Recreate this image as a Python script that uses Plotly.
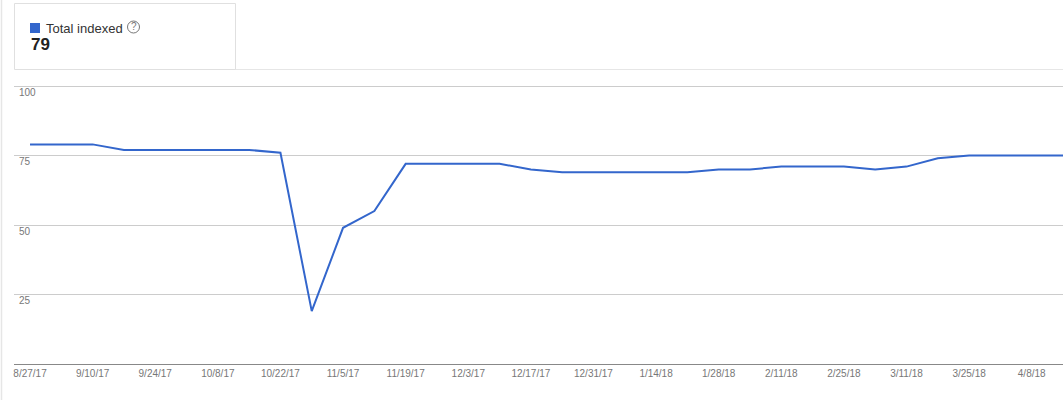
import plotly.graph_objects as go

# ---- data ----
dates = [
    "2017-08-27", "2017-09-03", "2017-09-10", "2017-09-17", "2017-09-24",
    "2017-10-01", "2017-10-08", "2017-10-15", "2017-10-22", "2017-10-29",
    "2017-11-05", "2017-11-12", "2017-11-19", "2017-11-26", "2017-12-03",
    "2017-12-10", "2017-12-17", "2017-12-24", "2017-12-31", "2018-01-07",
    "2018-01-14", "2018-01-21", "2018-01-28", "2018-02-04", "2018-02-11",
    "2018-02-18", "2018-02-25", "2018-03-04", "2018-03-11", "2018-03-18",
    "2018-03-25", "2018-04-01", "2018-04-08", "2018-04-15",
]
total_indexed = [
    79, 79, 79, 77, 77,
    77, 77, 77, 76, 19,
    49, 55, 72, 72, 72,
    72, 70, 69, 69, 69,
    69, 69, 70, 70, 71,
    71, 71, 70, 71, 74,
    75, 75, 75, 75,
]
x_tickvals = [
    "2017-08-27", "2017-09-10", "2017-09-24", "2017-10-08", "2017-10-22",
    "2017-11-05", "2017-11-19", "2017-12-03", "2017-12-17", "2017-12-31",
    "2018-01-14", "2018-01-28", "2018-02-11", "2018-02-25", "2018-03-11",
    "2018-03-25", "2018-04-08",
]
x_ticktext = [
    "8/27/17", "9/10/17", "9/24/17", "10/8/17", "10/22/17",
    "11/5/17", "11/19/17", "12/3/17", "12/17/17", "12/31/17",
    "1/14/18", "1/28/18", "2/11/18", "2/25/18", "3/11/18",
    "3/25/18", "4/8/18",
]
y_tickvals = [25, 50, 75, 100]
y_ticktext = ["25", "50", "75", "100"]
series_name = "Total indexed"
summary_value = "79"

# ---- layout geometry (pixels) ----
W, H = 1063, 400
ML, MR, MT, MB = 14, 0, 83, 36
PW = W - ML - MR
PH = H - MT - MB
Y_MAX = 100 + 3 / 2.78


def px_x(x):
    return (x - ML) / PW


def px_y(y):
    return (H - MB - y) / PH


BLUE = "#3366cc"
FONT = "Arial, Liberation Sans, sans-serif"
GREY_TXT = "#777777"

fig = go.Figure()
fig.add_trace(go.Scatter(
    x=dates, y=total_indexed, mode="lines", name=series_name,
    line=dict(color=BLUE, width=2), hoverinfo="x+y",
))

fig.update_layout(
    width=W, height=H,
    margin=dict(l=ML, r=MR, t=MT, b=MB, pad=0),
    paper_bgcolor="white", plot_bgcolor="white",
    showlegend=False,
    font=dict(family=FONT, size=10, color=GREY_TXT),
    xaxis=dict(
        type="date",
        range=["2017-08-23 10:00", "2018-04-15 00:00"],
        tickvals=x_tickvals, ticktext=x_ticktext,
        showgrid=False, zeroline=False,
        showline=True, linecolor="#888888", linewidth=1,
        ticks="", ticklen=0,
        tickfont=dict(family=FONT, size=10, color=GREY_TXT),
    ),
    yaxis=dict(
        range=[0, Y_MAX],
        tickvals=y_tickvals,
        showticklabels=False,
        showgrid=True, gridcolor="#cccccc", gridwidth=1,
        zeroline=False, showline=False,
        ticks="",
    ),
)

shapes = [
    # left frame line
    dict(type="line", xref="paper", yref="paper",
         x0=px_x(1.5), x1=px_x(1.5), y0=px_y(0), y1=px_y(400),
         line=dict(color="#e6e6e6", width=1.5)),
    # horizontal separator
    dict(type="line", xref="paper", yref="paper",
         x0=px_x(235), x1=px_x(1063), y0=px_y(69.5), y1=px_y(69.5),
         line=dict(color="#e6e6e6", width=1)),
    # summary box
    dict(type="rect", xref="paper", yref="paper",
         x0=px_x(14.5), x1=px_x(235.5), y0=px_y(69.5), y1=px_y(3.5),
         line=dict(color="#e0e0e0", width=1), fillcolor="white"),
    # legend colour square
    dict(type="rect", xref="paper", yref="paper",
         x0=px_x(30), x1=px_x(40), y0=px_y(33), y1=px_y(23),
         line=dict(width=0), fillcolor=BLUE),
    # question-mark circle
    dict(type="circle", xref="paper", yref="paper",
         x0=px_x(127.5), x1=px_x(139.5), y0=px_y(33), y1=px_y(21),
         line=dict(color=GREY_TXT, width=1)),
]

annotations = [
    dict(text=series_name, xref="paper", yref="paper",
         x=px_x(44), y=px_y(28.5), xanchor="left", yanchor="middle",
         showarrow=False, font=dict(family=FONT, size=13, color="#333333")),
    dict(text="?", xref="paper", yref="paper",
         x=px_x(133.5), y=px_y(27), xanchor="center", yanchor="middle",
         showarrow=False, font=dict(family=FONT, size=10, color=GREY_TXT)),
    dict(text="<b>" + summary_value + "</b>", xref="paper", yref="paper",
         x=px_x(29), y=px_y(44.5), xanchor="left", yanchor="middle",
         showarrow=False, font=dict(family=FONT, size=17, color="#222222")),
]

# y-axis labels sit just below their gridlines, inside the plot
for v, t in zip(y_tickvals, y_ticktext):
    annotations.append(dict(
        text=t, xref="paper", yref="y", x=px_x(17), y=v,
        xanchor="left", yanchor="middle", yshift=-6,
        showarrow=False, font=dict(family=FONT, size=10, color=GREY_TXT)))

fig.update_layout(shapes=shapes, annotations=annotations)
fig.write_html(
    "out.html",
    config={"displayModeBar": False},
    post_script="document.body.style.margin='0';document.body.style.padding='0';",
)
